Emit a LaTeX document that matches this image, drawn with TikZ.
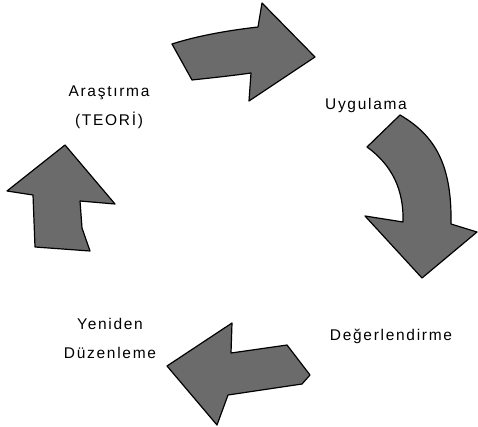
\documentclass[tikz,border=0pt]{standalone}
\usepackage{fontspec}
\newfontfamily\labelfont[LetterSpace=11]{Liberation Sans}
\tikzset{
    cycle arrow/.style={
        draw=black, line width=1.2pt, % outline of the block arrows
        fill=black!58, line join=round
    },
    step label/.style={
        align=center, inner sep=0pt,
        font=\labelfont\fontsize{15.5}{29}\selectfont
    }
}

\begin{document}
\begin{tikzpicture}[x=1pt, y=-1pt]
\useasboundingbox (0,0) rectangle (478,427);
\node[step label] (arastirma) at (109,107) {Araştırma\\(TEORİ)};
\node[step label] (uygulama) at (366,105) {Uygulama};
\node[step label] (degerlendirme) at (391,336) {Değerlendirme};
\node[step label] (yeniden) at (110,338) {Yeniden\\Düzenleme};
% top arrow, pointing right
\draw[cycle arrow] (172,44) .. controls (200,35) and (232,30) .. (258,27) -- (262,3) -- (315,57) -- (249,101) -- (251,73) .. controls (230,76) and (210,78) .. (192,80) -- cycle;
% right arrow, bending down
\draw[cycle arrow] (367,147) -- (400,115) .. controls (436,136) and (452,166) .. (451,224) -- (477,232) -- (422,278) -- (365,216) -- (403,222) .. controls (404,190) and (392,165) .. cycle;
% bottom arrow, pointing left
\draw[cycle arrow] (167,366) -- (232,323) -- (231,353) -- (287,345) -- (310,375) -- (302,384) -- (228,395) -- (217,425) -- cycle;
% left arrow, pointing up
\draw[cycle arrow] (65,145) -- (115,204) -- (80,201) -- (82,228) -- (90,251) -- (35,247) -- (33,195) -- (7,191) -- cycle;
\end{tikzpicture}
\end{document}
